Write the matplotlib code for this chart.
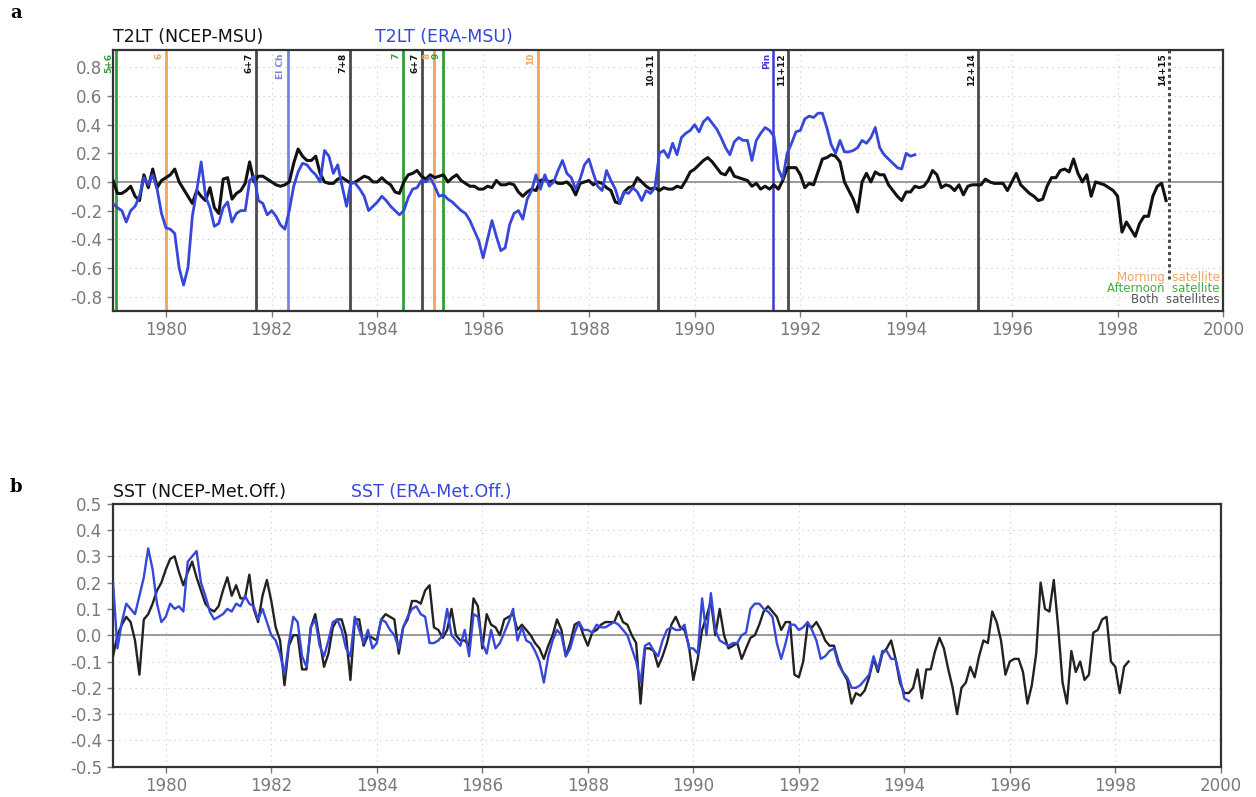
import numpy as np
import matplotlib
matplotlib.use('Agg')
import matplotlib.pyplot as plt

plt.rcParams['font.family'] = ['DejaVu Sans']

# T2LT anomaly differences, monthly from Jan 1979
t2lt_ncep = [
    0.01, -0.08, -0.08, -0.06, -0.03, -0.10, -0.13, 0.05, -0.04, 0.09, -0.04, 0.01,   # 1979
    0.03, 0.05, 0.09, 0.00, -0.05, -0.10, -0.15, -0.06, -0.10, -0.13, -0.04, -0.18,   # 1980
    -0.22, 0.02, 0.03, -0.12, -0.08, -0.06, -0.01, 0.14, 0.00, 0.04, 0.04, 0.02,      # 1981
    0.00, -0.02, -0.03, -0.02, 0.00, 0.13, 0.23, 0.18, 0.15, 0.15, 0.18, 0.06,        # 1982
    0.00, -0.01, -0.01, 0.02, 0.03, 0.01, -0.01, 0.00, 0.02, 0.04, 0.03, 0.00,        # 1983
    0.00, 0.03, 0.00, -0.02, -0.07, -0.08, 0.00, 0.05, 0.06, 0.08, 0.04, 0.02,        # 1984
    0.05, 0.03, 0.04, 0.05, 0.00, 0.03, 0.05, 0.01, -0.01, -0.03, -0.03, -0.05,       # 1985
    -0.05, -0.03, -0.04, 0.01, -0.02, -0.02, -0.01, -0.02, -0.07, -0.10, -0.07, -0.05,  # 1986
    -0.06, 0.01, 0.02, 0.00, 0.01, -0.01, -0.01, 0.00, -0.03, -0.09, -0.01, 0.00,     # 1987
    0.01, -0.02, 0.00, -0.01, -0.04, -0.06, -0.14, -0.15, -0.07, -0.04, -0.03, 0.03,  # 1988
    0.00, -0.03, -0.05, -0.04, -0.06, -0.04, -0.05, -0.05, -0.03, -0.04, 0.01, 0.07,  # 1989
    0.09, 0.12, 0.15, 0.17, 0.14, 0.10, 0.06, 0.05, 0.10, 0.04, 0.03, 0.02,           # 1990
    0.01, -0.03, -0.01, -0.05, -0.03, -0.05, -0.02, -0.05, 0.01, 0.10, 0.10, 0.10,    # 1991
    0.05, -0.04, -0.01, -0.02, 0.07, 0.16, 0.17, 0.19, 0.18, 0.14, 0.00, -0.06,       # 1992
    -0.12, -0.21, 0.00, 0.06, 0.00, 0.07, 0.05, 0.05, -0.02, -0.06, -0.10, -0.13,     # 1993
    -0.07, -0.07, -0.03, -0.04, -0.03, 0.01, 0.08, 0.05, -0.04, -0.02, -0.03, -0.06,  # 1994
    -0.02, -0.09, -0.03, -0.02, -0.02, -0.02, 0.02, 0.00, -0.01, -0.01, -0.01, -0.06, # 1995
    0.00, 0.06, -0.02, -0.05, -0.08, -0.10, -0.13, -0.12, -0.03, 0.03, 0.03, 0.08,    # 1996
    0.09, 0.07, 0.16, 0.06, 0.00, 0.05, -0.10, 0.00, -0.01, -0.02, -0.04, -0.06,      # 1997
    -0.10, -0.35, -0.28, -0.33, -0.38, -0.29, -0.24, -0.24, -0.10, -0.03, -0.01, -0.13,  # 1998
]
t2lt_era = [
    -0.15, -0.18, -0.20, -0.28, -0.20, -0.17, -0.10, 0.03, -0.02, 0.05, -0.05, -0.22,  # 1979
    -0.32, -0.33, -0.36, -0.60, -0.72, -0.60, -0.24, -0.06, 0.14, -0.10, -0.18, -0.31,  # 1980
    -0.29, -0.18, -0.14, -0.28, -0.22, -0.20, -0.20, 0.01, 0.04, -0.13, -0.15, -0.23,  # 1981
    -0.20, -0.24, -0.30, -0.33, -0.20, -0.03, 0.07, 0.13, 0.12, 0.08, 0.05, 0.00,      # 1982
    0.22, 0.18, 0.06, 0.12, -0.03, -0.17, 0.00, -0.01, -0.05, -0.10, -0.20, -0.17,     # 1983
    -0.14, -0.10, -0.13, -0.17, -0.20, -0.23, -0.20, -0.11, -0.05, -0.04, 0.01, 0.00,  # 1984
    0.03, -0.03, -0.10, -0.09, -0.12, -0.14, -0.17, -0.20, -0.22, -0.27, -0.34, -0.41,  # 1985
    -0.53, -0.40, -0.27, -0.38, -0.48, -0.46, -0.30, -0.22, -0.20, -0.26, -0.12, -0.06,  # 1986
    0.05, -0.05, 0.05, -0.03, 0.00, 0.08, 0.15, 0.06, 0.03, -0.05, 0.02, 0.12,         # 1987
    0.16, 0.06, -0.03, -0.06, 0.08, 0.01, -0.05, -0.15, -0.07, -0.08, -0.04, -0.07,    # 1988
    -0.13, -0.06, -0.08, -0.04, 0.20, 0.22, 0.17, 0.27, 0.19, 0.31, 0.34, 0.36,        # 1989
    0.40, 0.35, 0.42, 0.45, 0.41, 0.37, 0.31, 0.24, 0.19, 0.28, 0.31, 0.29,           # 1990
    0.29, 0.15, 0.29, 0.34, 0.38, 0.36, 0.32, 0.09, 0.02, 0.20, 0.27, 0.35,           # 1991
    0.36, 0.44, 0.46, 0.45, 0.48, 0.48, 0.38, 0.26, 0.20, 0.29, 0.21, 0.21,           # 1992
    0.22, 0.24, 0.29, 0.27, 0.31, 0.38, 0.24, 0.19, 0.16, 0.13, 0.10, 0.09,           # 1993
    0.20, 0.18, 0.19,                                                                 # 1994
]

# SST anomaly differences, monthly from Jan 1979
sst_ncep = [
    -0.08, 0.00, 0.04, 0.07, 0.05, -0.02, -0.15, 0.06, 0.08, 0.12, 0.17, 0.20,        # 1979
    0.25, 0.29, 0.30, 0.24, 0.19, 0.24, 0.28, 0.22, 0.17, 0.12, 0.10, 0.09,           # 1980
    0.11, 0.17, 0.22, 0.15, 0.19, 0.14, 0.14, 0.23, 0.10, 0.05, 0.15, 0.21,           # 1981
    0.13, 0.03, -0.02, -0.19, -0.04, 0.00, 0.00, -0.13, -0.13, 0.03, 0.08, -0.02,     # 1982
    -0.12, -0.07, 0.03, 0.06, 0.06, 0.00, -0.17, 0.06, 0.06, -0.04, 0.00, -0.01,      # 1983
    -0.02, 0.06, 0.08, 0.07, 0.06, -0.07, 0.03, 0.06, 0.13, 0.13, 0.12, 0.17,         # 1984
    0.19, 0.03, 0.02, -0.01, 0.02, 0.10, 0.00, -0.02, -0.02, -0.04, 0.14, 0.11,       # 1985
    -0.05, 0.08, 0.04, 0.03, 0.00, 0.06, 0.07, 0.08, 0.02, 0.04, 0.02, 0.00,          # 1986
    -0.03, -0.05, -0.09, -0.04, 0.00, 0.06, 0.02, -0.08, -0.03, 0.04, 0.05, 0.00,     # 1987
    -0.04, 0.01, 0.02, 0.04, 0.05, 0.05, 0.05, 0.09, 0.05, 0.04, 0.00, -0.03,         # 1988
    -0.26, -0.05, -0.05, -0.06, -0.12, -0.08, -0.03, 0.04, 0.07, 0.03, 0.02, -0.04,   # 1989
    -0.17, -0.09, 0.02, 0.07, 0.13, 0.00, 0.10, 0.00, -0.05, -0.04, -0.03, -0.09,     # 1990
    -0.05, -0.01, 0.00, 0.04, 0.09, 0.11, 0.09, 0.07, 0.02, 0.05, 0.05, -0.15,        # 1991
    -0.16, -0.10, 0.04, 0.03, 0.05, 0.02, -0.02, -0.04, -0.04, -0.10, -0.14, -0.17,   # 1992
    -0.26, -0.22, -0.23, -0.21, -0.16, -0.09, -0.14, -0.07, -0.05, -0.02, -0.09, -0.18,  # 1993
    -0.22, -0.22, -0.20, -0.13, -0.24, -0.13, -0.13, -0.06, -0.01, -0.05, -0.13, -0.20,  # 1994
    -0.30, -0.20, -0.18, -0.12, -0.16, -0.08, -0.02, -0.03, 0.09, 0.05, -0.02, -0.15,  # 1995
    -0.10, -0.09, -0.09, -0.14, -0.26, -0.19, -0.07, 0.20, 0.10, 0.09, 0.21, 0.03,    # 1996
    -0.18, -0.26, -0.06, -0.14, -0.10, -0.17, -0.15, 0.01, 0.02, 0.06, 0.07, -0.10,   # 1997
    -0.12, -0.22, -0.12, -0.10,                                                       # 1998
]
sst_era = [
    0.20, -0.05, 0.05, 0.12, 0.10, 0.08, 0.15, 0.22, 0.33, 0.25, 0.12, 0.05,          # 1979
    0.07, 0.12, 0.10, 0.11, 0.09, 0.28, 0.30, 0.32, 0.20, 0.15, 0.09, 0.06,           # 1980
    0.07, 0.08, 0.10, 0.09, 0.12, 0.11, 0.15, 0.12, 0.11, 0.06, 0.10, 0.05,           # 1981
    0.00, -0.02, -0.07, -0.15, -0.03, 0.07, 0.05, -0.08, -0.12, 0.03, 0.06, -0.04,    # 1982
    -0.08, -0.02, 0.05, 0.06, 0.02, -0.05, -0.08, 0.07, 0.02, -0.03, 0.02, -0.05,     # 1983
    -0.03, 0.06, 0.05, 0.02, 0.00, -0.05, 0.03, 0.07, 0.10, 0.11, 0.08, 0.07,         # 1984
    -0.03, -0.03, -0.02, 0.00, 0.10, 0.00, -0.02, -0.04, 0.02, -0.08, 0.08, 0.07,     # 1985
    -0.03, -0.07, 0.02, -0.05, -0.03, 0.01, 0.05, 0.10, -0.02, 0.03, -0.02, -0.03,    # 1986
    -0.06, -0.10, -0.18, -0.08, -0.02, 0.02, 0.00, -0.08, -0.05, 0.01, 0.05, 0.02,    # 1987
    0.02, 0.01, 0.04, 0.03, 0.03, 0.04, 0.05, 0.04, 0.02, 0.00, -0.05, -0.10,         # 1988
    -0.18, -0.04, -0.03, -0.06, -0.08, -0.02, 0.02, 0.03, 0.02, 0.02, 0.04, -0.05,    # 1989
    -0.05, -0.07, 0.14, 0.00, 0.16, 0.02, -0.02, -0.03, -0.04, -0.03, -0.03, 0.00,    # 1990
    0.01, 0.10, 0.12, 0.12, 0.10, 0.09, 0.07, -0.03, -0.09, -0.03, 0.04, 0.04,        # 1991
    0.02, 0.03, 0.05, 0.02, -0.02, -0.09, -0.08, -0.06, -0.05, -0.11, -0.14, -0.16,   # 1992
    -0.20, -0.20, -0.19, -0.17, -0.15, -0.08, -0.13, -0.06, -0.06, -0.09, -0.09, -0.16,  # 1993
    -0.24, -0.25,                                                                     # 1994
]

# satellite changes and volcanic eruptions: (date, kind, label)
events = [
    (1979.05, 'pm', '5+6'), (1980.0, 'am', '6'), (1981.7, 'both', '6+7'),
    (1982.3, 'volc', 'El Ch'), (1983.48, 'both', '7+8'), (1984.48, 'pm', '7'),
    (1984.84, 'both', '6+7'), (1985.07, 'am', '8'), (1985.24, 'pm', '9'),
    (1987.03, 'am', '10'), (1989.3, 'both', '10+11'), (1991.49, 'volc2', 'Pin'),
    (1991.77, 'both', '11+12'), (1995.36, 'both', '12+14'), (1998.98, 'end', '14+15'),
]
ev_col = {'am': '#f2a45a', 'pm': '#2fa03a', 'both': '#4a4a4a',
          'volc': '#7a80ec', 'volc2': '#3a3ad8', 'end': '#4a4a4a'}

key_labels = ['Morning  satellite', 'Afternoon  satellite', 'Both  satellites']
key_colors = ['#f2a45a', '#44aa44', '#555555']

BLUE = '#3647d9'
TICK = '#7a7a7a'


def months(vals, start=1979.0):
    return start + np.arange(len(vals)) / 12.0


def style_axes(ax, ylo, yhi, yticks, ygrid):
    ax.set_xlim(1979, 2000)
    ax.set_ylim(ylo, yhi)
    ax.set_xticks(np.arange(1980, 2001, 2))
    ax.set_yticks(yticks)
    ax.set_yticklabels(['%.1f' % (v + 0.0) for v in yticks])
    ax.tick_params(colors=TICK, labelsize=12, length=4, width=1)
    for lab in ax.get_xticklabels() + ax.get_yticklabels():
        lab.set_color(TICK)
    for y in ygrid:
        ax.axhline(y, color='#c8c8c8', lw=0.8, ls=(0, (1, 4)), zorder=0)
    for x in np.arange(1980, 2000, 2):
        ax.axvline(x, color='#c8c8c8', lw=0.8, ls=(0, (1, 4)), zorder=0)
    ax.axhline(0, color='#8a8a8a', lw=1.2, zorder=1)
    for s in ax.spines.values():
        s.set_color('#333333')
        s.set_linewidth(1.6)


fig = plt.figure(figsize=(12.56, 7.97), dpi=100)

# panel a
ax1 = fig.add_axes([0.090, 0.610, 0.884, 0.327])
yt1 = np.round(np.arange(-0.8, 0.81, 0.2), 1)
style_axes(ax1, -0.9, 0.92, yt1, yt1)
for x, kind, lab in events:
    c = ev_col[kind]
    if kind == 'end':
        ax1.plot([x, x], [-0.68, 0.92], color=c, lw=2.2, ls=(0, (1, 1)), zorder=2)
    else:
        ax1.axvline(x, color=c, lw=2.0 if kind != 'volc2' else 1.8, zorder=2)
    tc = c if kind not in ('both', 'end') else '#111111'
    ax1.text(x - 0.04, 0.9, lab, rotation=90, ha='right', va='top', fontsize=6.5,
             fontweight='bold', color=tc, zorder=4)
ax1.plot(months(t2lt_ncep), t2lt_ncep, color='#111111', lw=2.2, zorder=3)
ax1.plot(months(t2lt_era), t2lt_era, color=BLUE, lw=2.0, zorder=3)
for i, (lab, c) in enumerate(zip(key_labels, key_colors)):
    ax1.text(1999.93, -0.665 - 0.078 * i, lab, color=c, fontsize=8.5,
             ha='right', va='center')
ax1.text(0.0, 1.015, 'T2LT (NCEP-MSU)', transform=ax1.transAxes, fontsize=12.5,
         color='#111111', ha='left', va='bottom')
ax1.text(0.236, 1.015, 'T2LT (ERA-MSU)', transform=ax1.transAxes, fontsize=12.5,
         color=BLUE, ha='left', va='bottom')

# panel b
ax2 = fig.add_axes([0.090, 0.038, 0.882, 0.330])
yt2 = np.round(np.arange(-0.5, 0.51, 0.1), 1)
style_axes(ax2, -0.5, 0.5, yt2, yt2[1:-1])
ax2.plot(months(sst_ncep), sst_ncep, color='#222222', lw=1.7, zorder=3)
ax2.plot(months(sst_era), sst_era, color=BLUE, lw=1.7, zorder=3)
ax2.text(0.0, 1.01, 'SST (NCEP-Met.Off.)', transform=ax2.transAxes, fontsize=12.5,
         color='#111111', ha='left', va='bottom')
ax2.text(0.215, 1.01, 'SST (ERA-Met.Off.)', transform=ax2.transAxes, fontsize=12.5,
         color=BLUE, ha='left', va='bottom')

fig.text(0.008, 0.977, 'a', fontsize=13, fontweight='bold', family='serif')
fig.text(0.008, 0.383, 'b', fontsize=13, fontweight='bold', family='serif')

fig.savefig('out.png', dpi=100)
